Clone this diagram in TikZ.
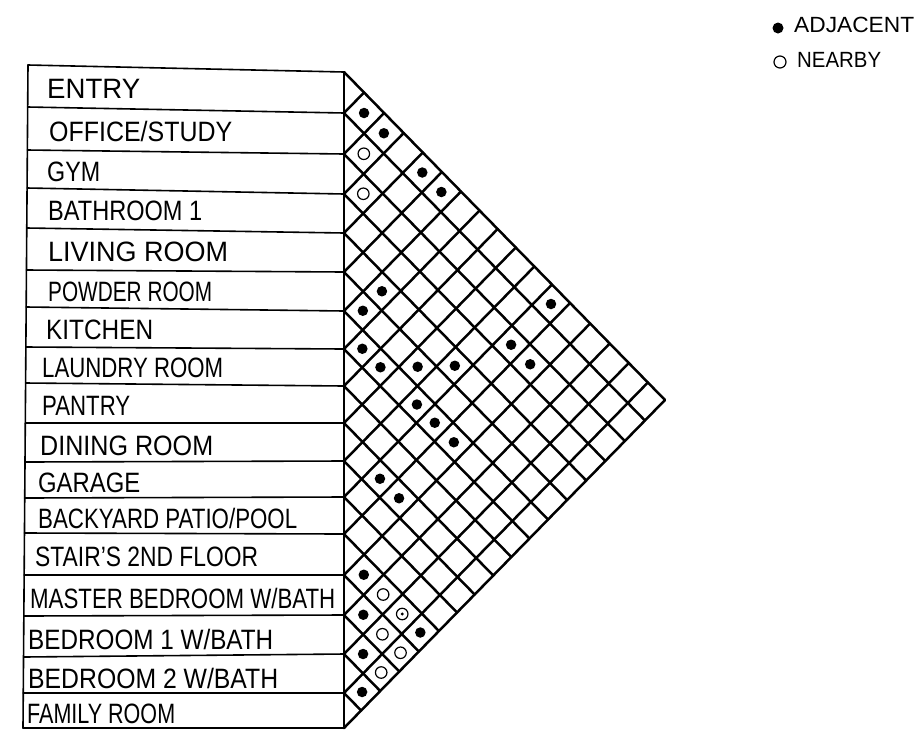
\documentclass[tikz,border=0pt]{standalone}
\usepackage{fontspec}
\setmainfont{Liberation Sans}
\begin{document}
\begin{tikzpicture}[x=1pt,y=-1pt,
  tbl/.style={line width=1.6pt, line cap=round, line join=round},
  grd/.style={line width=2.5pt, line cap=round, line join=round},
  lbl/.style={anchor=west, inner sep=0pt, font=\fontsize{28}{32}\selectfont},
  leg/.style={anchor=west, inner sep=0pt, font=\fontsize{22}{26}\selectfont},
  adj/.style={circle, fill=black, inner sep=0pt, minimum size=10.5pt},
  near/.style={circle, draw=black, line width=1.2pt, fill=white, inner sep=0pt, minimum size=11.5pt}]
\fill[white] (0,0) rectangle (921,732);
\useasboundingbox (0,0) rectangle (921,732);
\def\LL{{65,107,150,188,228,270,307,347,383,423,462,498,533,575,616,657,693,728}}
\def\RR{{72,113,154,194,233,272,311,349,386,423,461,497,534,575,615,654,693,728}}
\def\xo{344}
\def\sl{1.0218}
% table
\draw[tbl] (28,65) -- (23,728);
\draw[tbl] (\xo,72) -- (\xo,728);
\foreach \k in {0,...,17}{
  \pgfmathsetmacro\lk{\LL[\k]}
  \pgfmathsetmacro\rk{\RR[\k]}
  \pgfmathsetmacro\xl{28-5*\k/17}
  \draw[tbl] (\xl,\lk) -- (\xo,\rk);
}
% diagonal grid
\foreach \k in {0,...,17}{
  \pgfmathsetmacro\rk{\RR[\k]}
  \pgfmathsetmacro\xa{\xo+(728-\rk)/(2*\sl)}
  \pgfmathsetmacro\ya{(\rk+728)/2}
  \pgfmathsetmacro\xb{\xo+(\rk-72)/(2*\sl)}
  \pgfmathsetmacro\yb{(\rk+72)/2}
  \draw[grd] (\xo,\rk) -- (\xa,\ya);
  \ifnum\k>0 \draw[grd] (\xo,\rk) -- (\xb,\yb); \fi
}
% labels: x / ink width / text
\foreach \xx/\ww/\t [count=\n from 0] in {47/93/{ENTRY}, 49/183/{OFFICE/STUDY}, 47/53/{GYM}, 48/154/{BATHROOM 1}, 48/180/{LIVING ROOM}, 48/164/{POWDER ROOM}, 46/107/{KITCHEN}, 42/181/{LAUNDRY ROOM}, 42/88/{PANTRY}, 40/173/{DINING ROOM}, 38/102/{GARAGE}, 38/259/{BACKYARD PATIO/POOL}, 35/223/{STAIR'S 2ND FLOOR}, 30/305/{MASTER BEDROOM W/BATH}, 28/245/{BEDROOM 1 W/BATH}, 28/250/{BEDROOM 2 W/BATH}, 27/148/{FAMILY ROOM}}{
  \pgfmathtruncatemacro\np{\n+1}
  \pgfmathsetmacro\ya{\LL[\n]}
  \pgfmathsetmacro\yb{\LL[\np]}
  \pgfmathsetmacro\yc{(\ya+\yb)/2+3}
  \node[lbl] (lab\n) at (\xx,\yc) {\resizebox{\ww pt}{\height}{\t}};
}
% adjacency dots
\foreach \i/\j in {0/1,0/2,0/4,0/5,0/11,4/6,5/6,6/7,6/8,5/9,4/10,2/11,2/12,6/10,6/11,6/12,9/11,9/12,12/13,13/14,12/16,14/15,15/16}{
  \pgfmathtruncatemacro\ip{\i+1}
  \pgfmathtruncatemacro\jp{\j+1}
  \pgfmathsetmacro\ra{\RR[\i]}
  \pgfmathsetmacro\rb{\RR[\ip]}
  \pgfmathsetmacro\rc{\RR[\j]}
  \pgfmathsetmacro\rd{\RR[\jp]}
  \pgfmathsetmacro\mi{(\ra+\rb)/2}
  \pgfmathsetmacro\mj{(\rc+\rd)/2}
  \pgfmathsetmacro\cx{\xo+(\mj-\mi)/(2*\sl)}
  \pgfmathsetmacro\cy{(\mi+\mj)/2}
  \node[adj] (a-\i-\j) at (\cx,\cy) {};
}
% nearby circles
\foreach \i/\j in {1/2,2/3,12/14,12/15,13/15,13/16,14/16}{
  \pgfmathtruncatemacro\ip{\i+1}
  \pgfmathtruncatemacro\jp{\j+1}
  \pgfmathsetmacro\ra{\RR[\i]}
  \pgfmathsetmacro\rb{\RR[\ip]}
  \pgfmathsetmacro\rc{\RR[\j]}
  \pgfmathsetmacro\rd{\RR[\jp]}
  \pgfmathsetmacro\mi{(\ra+\rb)/2}
  \pgfmathsetmacro\mj{(\rc+\rd)/2}
  \pgfmathsetmacro\cx{\xo+(\mj-\mi)/(2*\sl)}
  \pgfmathsetmacro\cy{(\mi+\mj)/2}
  \node[near] (n-\i-\j) at (\cx,\cy) {};
}
\fill (n-12-15.center) circle (1.6);
% legend
\node[adj, minimum size=11pt] (legadj) at (778,28) {};
\node[leg] (legadjt) at (794,25) {\resizebox{120pt}{\height}{ADJACENT}};
\node[near, minimum size=12pt] (legnear) at (780,62) {};
\node[leg] (legneart) at (797,60) {\resizebox{84pt}{\height}{NEARBY}};
\end{tikzpicture}
\end{document}
